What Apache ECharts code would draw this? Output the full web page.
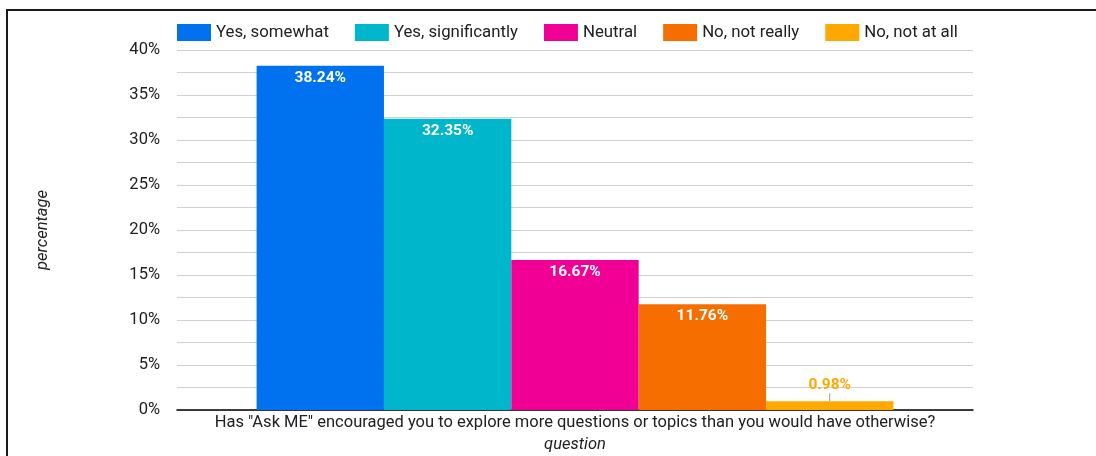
<!DOCTYPE html>
<html>
<head>
<meta charset="utf-8">
<script src="https://cdn.jsdelivr.net/npm/echarts@6/dist/echarts.min.js"></script>
<style>
  html, body { margin: 0; padding: 0; background: #fff; overflow: hidden; }
  #frame { position: absolute; left: 6px; top: 9px; width: 1200px; height: 600px;
           border: 2px solid #1a1a1a; box-sizing: border-box; }
  #chart { position: absolute; left: 0; top: 0; width: 1096px; height: 456px; }
</style>
</head>
<body>
<div id="frame"></div>
<div id="chart"></div>
<script>
// Survey question shown on the x axis
const categories = ['Has "Ask ME" encouraged you to explore more questions or topics than you would have otherwise?'];
// Answer options (one bar series each) and their share of responses, in %
const seriesNames = ['Yes, somewhat', 'Yes, significantly', 'Neutral', 'No, not really', 'No, not at all'];
const seriesValues = [38.24, 32.35, 16.67, 11.76, 0.98];
const seriesColors = ['#0072f0', '#00b6cb', '#f10096', '#f66d00', '#ffa800'];
// Value axis range
const yMin = 0;
const yMax = 40;
const yStep = 2.5;

const FONT = 'Roboto, "Noto Sans", sans-serif';
const chart = echarts.init(document.getElementById('chart'), null, { renderer: 'canvas' });

const series = seriesNames.map((name, i) => {
  const small = seriesValues[i] < 3;
  const s = {
    name: name,
    type: 'bar',
    data: [seriesValues[i]],
    barGap: '0%',
    barCategoryGap: '20%',
    itemStyle: { color: seriesColors[i] },
    label: {
      show: true,
      position: small ? 'top' : 'insideTop',
      distance: small ? 0 : 4,
      formatter: p => p.value.toFixed(2) + '%',
      color: small ? seriesColors[i] : '#ffffff',
      fontFamily: FONT,
      fontSize: 15.5,
      fontWeight: 'bold'
    }
  };
  if (small) {
    s.labelLayout = { dy: -8 };
    s.labelLine = { show: true, lineStyle: { color: '#999999', width: 1 } };
  }
  return s;
});

chart.setOption({
  animation: false,
  textStyle: { fontFamily: FONT },
  legend: {
    data: seriesNames,
    left: 172,
    top: 19,
    itemWidth: 34,
    itemHeight: 17,
    itemGap: 26,
    icon: 'rect',
    textStyle: { fontSize: 16.8, color: '#202124', fontFamily: FONT }
  },
  grid: { left: 177, right: 123, top: 50, bottom: 46, containLabel: false, outerBoundsMode: 'none' },
  xAxis: {
    type: 'category',
    data: categories,
    name: 'question',
    nameLocation: 'middle',
    nameGap: 23,
    nameTextStyle: { fontStyle: 'italic', fontSize: 16.5, color: '#202124', fontFamily: FONT },
    axisLine: { lineStyle: { color: '#000000', width: 1.5 } },
    axisTick: { show: false },
    axisLabel: { fontSize: 16.5, color: '#202124', margin: 4, fontFamily: FONT }
  },
  yAxis: {
    type: 'value',
    min: yMin,
    max: yMax,
    interval: yStep,
    name: 'percentage',
    nameLocation: 'middle',
    nameGap: 126,
    nameTextStyle: { fontStyle: 'italic', fontSize: 16.5, color: '#202124', fontFamily: FONT },
    axisLine: { show: false },
    axisTick: { show: false },
    axisLabel: {
      fontSize: 16.5,
      color: '#202124',
      margin: 17,
      fontFamily: FONT,
      formatter: v => (Math.abs(v % 5) < 1e-9 ? v + '%' : '')
    },
    splitLine: { lineStyle: { color: '#d0d0d0', width: 1 } }
  },
  series: series
});
</script>
</body>
</html>
